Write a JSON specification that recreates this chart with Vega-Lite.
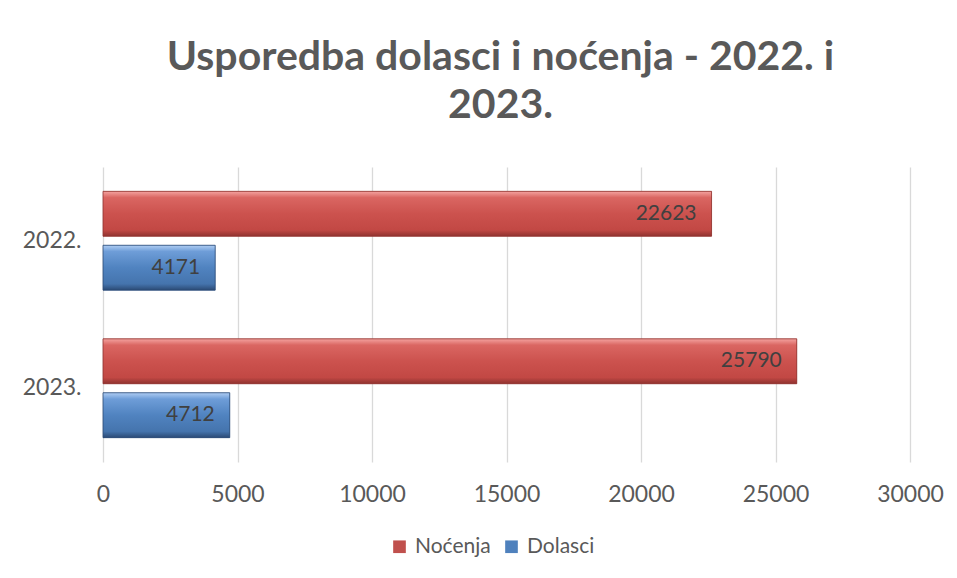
{
  "$schema": "https://vega.github.io/schema/vega-lite/v6.json",
  "autosize": "none",
  "padding": {"left": 103, "top": 167, "right": 47, "bottom": 116},
  "width": 807,
  "height": 295,
  "background": "white",
  "config": {
    "font": "Lato",
    "view": {"stroke": null},
    "axis": {"labelFont": "Lato", "labelColor": "#595959", "labelFontSize": 23, "titleFont": "Lato"},
    "legend": {"labelFont": "Lato"}
  },
  "title": {
    "text": ["Usporedba dolasci i noćenja - 2022. i", "2023."],
    "font": "Lato",
    "fontSize": 41,
    "fontWeight": "bold",
    "color": "#595959",
    "anchor": "middle",
    "lineHeight": 48,
    "offset": 40,
    "dx": -6
  },
  "data": {
    "values": [
      {"godina": "2022.", "serija": "Noćenja", "vrijednost": 22623},
      {"godina": "2022.", "serija": "Dolasci", "vrijednost": 4171},
      {"godina": "2023.", "serija": "Noćenja", "vrijednost": 25790},
      {"godina": "2023.", "serija": "Dolasci", "vrijednost": 4712}
    ]
  },
  "encoding": {
    "y": {
      "field": "godina",
      "type": "nominal",
      "sort": ["2022.", "2023."],
      "scale": {"paddingInner": 0.33, "paddingOuter": 0.165},
      "axis": {"title": null, "domain": false, "ticks": false, "labelPadding": 22, "grid": false}
    },
    "yOffset": {
      "field": "serija",
      "type": "nominal",
      "sort": ["Noćenja", "Dolasci"],
      "scale": {"paddingInner": 0.167, "paddingOuter": 0}
    },
    "x": {
      "field": "vrijednost",
      "type": "quantitative",
      "scale": {"domain": [0, 30000], "nice": false},
      "axis": {
        "title": null,
        "values": [0, 5000, 10000, 15000, 20000, 25000, 30000],
        "format": "d",
        "domain": false,
        "ticks": false,
        "grid": true,
        "gridColor": "#D9D9D9",
        "gridWidth": 1.3,
        "labelFlush": false,
        "labelPadding": 21
      }
    }
  },
  "layer": [
    {
      "mark": {"type": "bar"},
      "encoding": {
        "color": {
          "field": "serija",
          "type": "nominal",
          "scale": {"domain": ["Noćenja", "Dolasci"], "range": ["#C0504D", "#4F81BD"]},
          "legend": {
            "title": null,
            "orient": "none",
            "legendX": 286,
            "legendY": 369,
            "padding": 0,
            "direction": "horizontal",
            "symbolType": "square",
            "symbolSize": 160,
            "symbolStrokeWidth": 0,
            "labelFontSize": 21,
            "labelColor": "#595959",
            "columnPadding": 10,
            "labelOffset": 5
          }
        }
      }
    },
    {
      "transform": [{"filter": "datum.serija === 'Noćenja'"}],
      "mark": {
        "type": "bar",
        "stroke": "#8F3330",
        "strokeWidth": 0.8,
        "color": {
          "gradient": "linear",
          "x1": 0, "y1": 0, "x2": 0, "y2": 1,
          "stops": [
            {"offset": 0, "color": "#F4A3A0"},
            {"offset": 0.14, "color": "#DA6662"},
            {"offset": 0.5, "color": "#CC524E"},
            {"offset": 0.86, "color": "#C24844"},
            {"offset": 1, "color": "#8F3330"}
          ]
        }
      }
    },
    {
      "transform": [{"filter": "datum.serija === 'Dolasci'"}],
      "mark": {
        "type": "bar",
        "stroke": "#2B4A75",
        "strokeWidth": 0.8,
        "color": {
          "gradient": "linear",
          "x1": 0, "y1": 0, "x2": 0, "y2": 1,
          "stops": [
            {"offset": 0, "color": "#AFCDF3"},
            {"offset": 0.14, "color": "#6E9DD8"},
            {"offset": 0.5, "color": "#5083C0"},
            {"offset": 0.86, "color": "#4574AD"},
            {"offset": 1, "color": "#2B4A75"}
          ]
        }
      }
    },
    {
      "mark": {"type": "text", "align": "right", "baseline": "middle", "dx": -15, "fontSize": 21, "color": "#404040", "font": "Lato"},
      "encoding": {
        "text": {"field": "vrijednost", "type": "quantitative", "format": "d"}
      }
    }
  ]
}
